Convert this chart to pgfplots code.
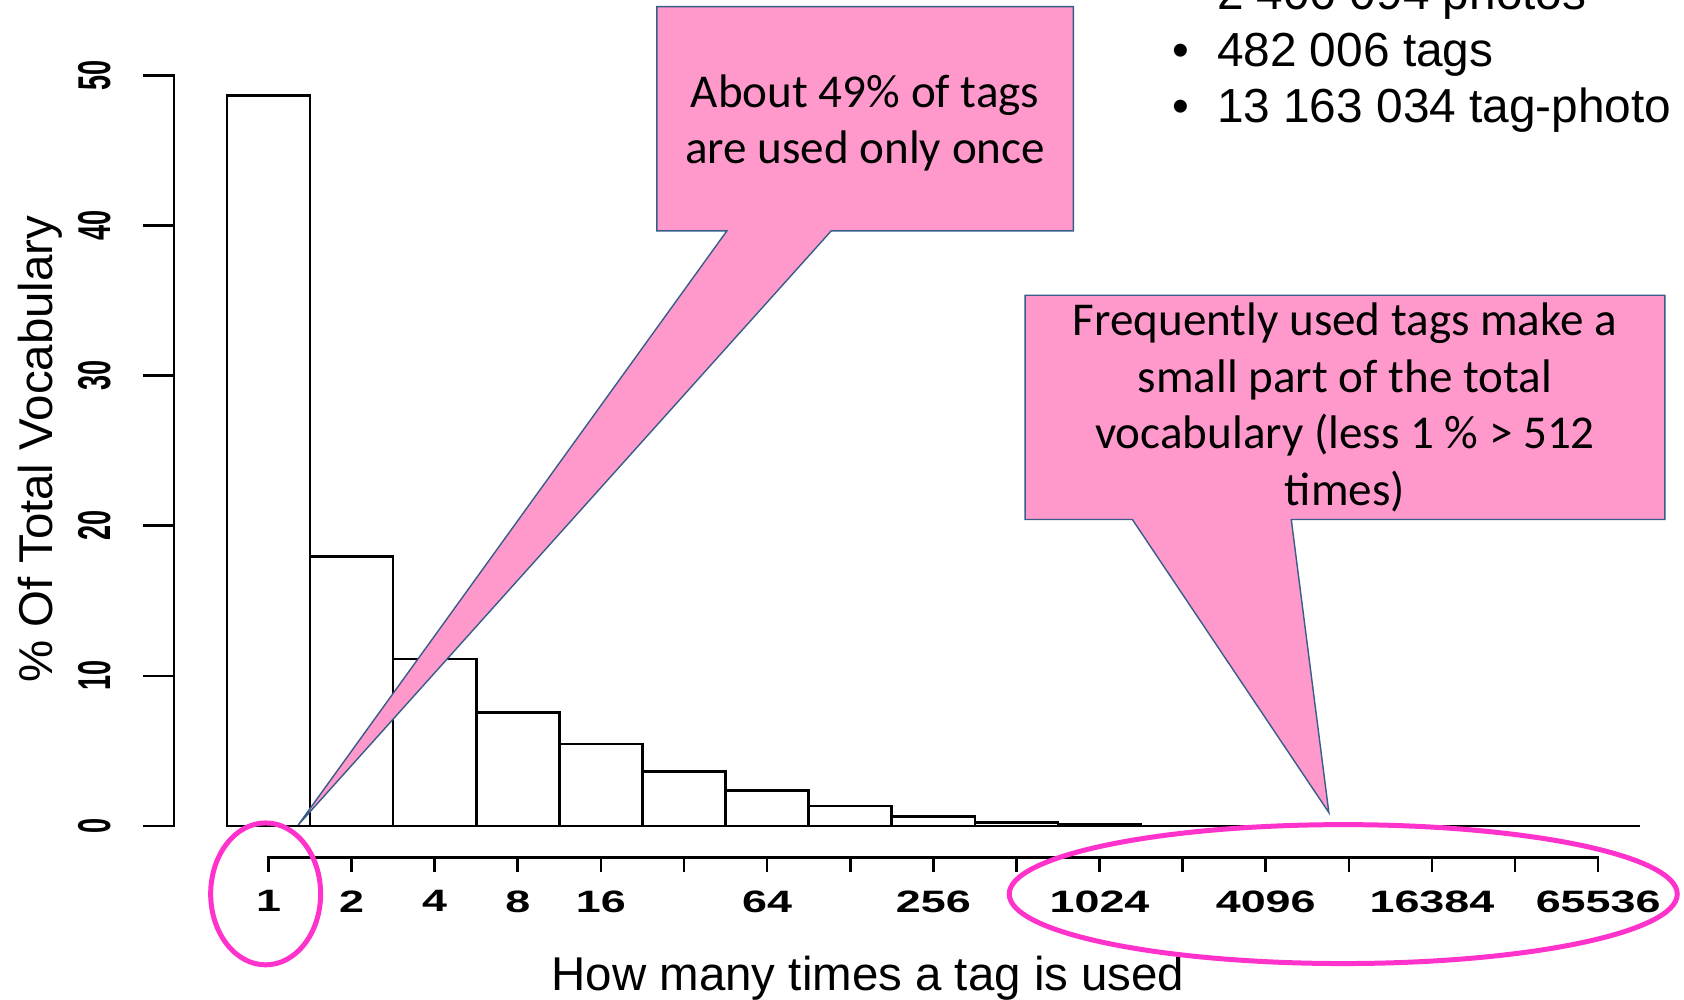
\documentclass[border=0pt]{standalone}
\usepackage{pgfplots}
\pgfplotsset{compat=1.18}
\usepackage{fontspec}
\setmainfont{Liberation Sans}
\newfontfamily\calibri{Carlito}
\definecolor{calloutpink}{RGB}{255,153,204}
\definecolor{calloutedge}{RGB}{56,93,138}
\definecolor{ringpink}{RGB}{255,51,204}
\newcommand{\xl}[1]{\scalebox{1.45}[1]{\textbf{#1}}}
\newcommand{\yl}[1]{\scalebox{1}[1.7]{\textbf{#1}}}
\begin{document}
\begin{tikzpicture}
% main axis: bars and y axis
\begin{axis}[
  at={(2.685cm,-8.26cm)}, anchor=origin,
  x=0.831cm, y=0.1501cm,
  xmin=-1.1376, xmax=16.6, ymin=0, ymax=50,
  enlargelimits=false, clip=false,
  axis x line=none, axis y line=left,
  y axis line style={draw=none},
  ytick={0,10,20,30,40,50},
  yticklabels={\yl{0},\yl{10},\yl{20},\yl{30},\yl{40},\yl{50}},
  tick align=outside, major tick length=0.306cm,
  ytick style={line width=0.75pt, black},
  yticklabel style={rotate=90, anchor=south, inner sep=0pt, font=\fontsize{7.7}{9}\selectfont},
  yticklabel shift=0.32cm,
  ylabel={\% Of Total Vocabulary},
  every axis y label/.style={at={(axis description cs:-0.08273,0.5024)}, anchor=base, rotate=90, font=\fontsize{13.5}{16}\selectfont},
]
\draw[line width=0.75pt, line cap=rect] (axis cs:-1.1376,0) -- (axis cs:-1.1376,50);
\addplot[ybar interval, fill=white, draw=black, line width=0.75pt] coordinates {
  (-0.5,48.65) (0.5,17.94) (1.5,11.13) (2.5,7.57) (3.5,5.46) (4.5,3.64)
  (5.5,2.35) (6.5,1.33) (7.5,0.62) (8.5,0.24) (9.5,0.09) (10.5,0.09)};
\addplot[black, line width=0.75pt] coordinates {(-0.5,0) (16.5,0)};
\end{axis}
% lower x axis (log2 scale ticks)
\begin{axis}[
  at={(2.685cm,-8.573cm)}, anchor=origin,
  x=0.831cm, y=1cm,
  xmin=0, xmax=16, ymin=0, ymax=1,
  enlargelimits=false, clip=false,
  axis y line=none, axis x line=bottom,
  x axis line style={draw=none},
  xtick={0,1,...,16},
  xticklabels={\xl{1},\xl{2},\xl{4},\xl{8},\xl{16},,\xl{64},,\xl{256},,\xl{1024},,\xl{4096},,\xl{16384},,\xl{65536}},
  tick align=outside, major tick length=0.144cm,
  xtick style={line width=0.75pt, black},
  xticklabel style={anchor=north, inner sep=0pt, font=\fontsize{8.8}{10}\selectfont},
  xticklabel shift=0.18cm,
  xlabel={How many times a tag is used},
  every axis x label/.style={at={(axis description cs:0.4509,-1.327)}, anchor=base, font=\fontsize{13.5}{16}\selectfont},
]
\draw[line width=0.75pt, line cap=rect] (axis cs:0,0) -- (axis cs:16,0);
\end{axis}
% annotations, in pixel units of the 1684x1000 reference (y downwards)
\begin{scope}[x=0.01cm, y=-0.01cm]
\filldraw[fill=calloutpink, draw=calloutedge, line width=0.4pt]
  (657.3,6.7) -- (1074,6.7) -- (1074,231) -- (831.7,231) -- (298.3,825.5)
  -- (727.3,231) -- (657.3,231) -- cycle;
\filldraw[fill=calloutpink, draw=calloutedge, line width=0.4pt]
  (1025.7,295.4) -- (1665.8,295.4) -- (1665.8,519.8) -- (1292,519.8) -- (1329.6,813)
  -- (1133,519.8) -- (1025.7,519.8) -- cycle;
\begin{scope}[every node/.style={anchor=base, inner sep=0pt, font=\calibri\fontsize{13.4}{16}\selectfont}]
\node at (865.6,107.3) {About 49\% of tags};
\node at (865.6,163.3) {are used only once};
\node at (1345.7,336) {Frequently used tags make a};
\node at (1345.7,392.5) {small part of the total};
\node at (1345.7,449) {vocabulary (less 1 \% > 512};
\node at (1345.7,505.5) {times)};
\end{scope}
\begin{scope}[every node/.style={inner sep=0pt, font=\fontsize{13.6}{16}\selectfont}]
\node[anchor=base] at (1181.7,10) {\textbullet};
\node[anchor=base west] at (1217,10) {2 406 094 photos};
\node[anchor=base] at (1181.7,66.7) {\textbullet};
\node[anchor=base west] at (1217,66.7) {482 006 tags};
\node[anchor=base] at (1181.7,123) {\textbullet};
\node[anchor=base west] at (1217,123) {13 163 034 tag-photo};
\end{scope}
\draw[ringpink, line width=1.42pt] (265.8,894.4) ellipse [x radius=55, y radius=71];
\draw[ringpink, line width=1.42pt] (1344,894.6) ellipse [x radius=334.2, y radius=69.5];
\end{scope}
\pgfresetboundingbox
\useasboundingbox (0,0) rectangle (16.84,-10);
\end{tikzpicture}
\end{document}
